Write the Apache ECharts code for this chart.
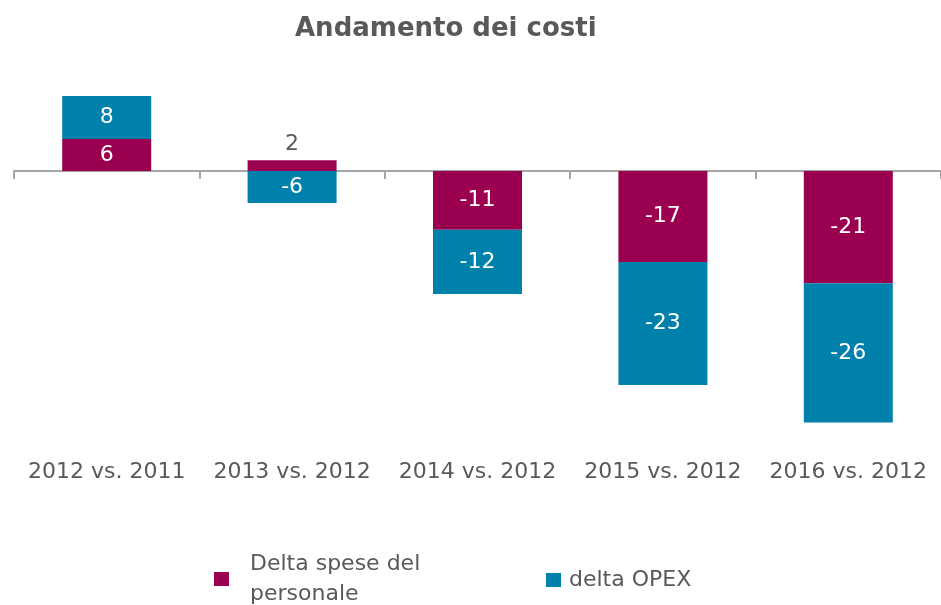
<!DOCTYPE html>
<html>
<head>
<meta charset="utf-8">
<script src="https://cdn.jsdelivr.net/npm/echarts@6/dist/echarts.min.js"></script>
<style>html,body{margin:0;padding:0;background:#fff}#c{width:941px;height:605px}</style>
</head>
<body>
<div id="c"></div>
<script>
const categories = ['2012 vs. 2011', '2013 vs. 2012', '2014 vs. 2012', '2015 vs. 2012', '2016 vs. 2012'];
const personale = [6, 2, -11, -17, -21];
const opex = [8, -6, -12, -23, -26];
const seriesNames = ['Delta spese del personale', 'delta OPEX'];

const FONT = 'DejaVu Sans';
const GREY = '#595959';
const MAG = '#9B0050';
const TEAL = '#0081AC';

const chart = echarts.init(document.getElementById('c'), null, {renderer: 'canvas'});

function toData(arr) {
  return arr.map(v => Math.abs(v) < 4
    ? {value: v, label: {position: v >= 0 ? 'top' : 'bottom', color: GREY}}
    : v);
}

const labelStyle = {show: true, position: 'inside', color: '#fff', fontFamily: FONT, fontSize: 22};

chart.setOption({
  animation: false,
  title: {
    text: 'Andamento dei costi',
    left: 290, top: 11,
    textStyle: {fontFamily: FONT, fontSize: 26, fontWeight: 'bold', color: GREY}
  },
  legend: [
    {
      data: [seriesNames[0]],
      left: 209, top: 544,
      itemWidth: 15, itemHeight: 14,
      icon: 'rect',
      formatter: () => 'Delta spese del\npersonale',
      textStyle: {fontFamily: FONT, fontSize: 22, color: GREY, lineHeight: 30, padding: [0, 0, 0, 16]}
    },
    {
      data: [seriesNames[1]],
      left: 541, top: 562,
      itemWidth: 15, itemHeight: 14,
      icon: 'rect',
      textStyle: {fontFamily: FONT, fontSize: 22, color: GREY, lineHeight: 26, padding: [0, 0, 0, 3]}
    }
  ],
  grid: {left: 14, top: 64, width: 932, height: 374.5, containLabel: false},
  xAxis: [
    {
      type: 'category', data: categories, position: 'bottom',
      axisLine: {onZero: true, lineStyle: {color: '#A6A6A6', width: 2}},
      axisTick: {show: true, length: 8, lineStyle: {color: '#A6A6A6', width: 2}},
      axisLabel: {show: false},
      splitLine: {show: false}
    },
    {
      type: 'category', data: categories, position: 'bottom',
      axisLine: {show: false, onZero: false},
      axisTick: {show: false},
      axisLabel: {show: true, interval: 0, margin: 23, fontFamily: FONT, fontSize: 22, color: GREY},
      splitLine: {show: false}
    }
  ],
  yAxis: {
    type: 'value', min: -50, max: 20, show: false,
    splitLine: {show: false}
  },
  series: [
    {
      name: seriesNames[0], type: 'bar', stack: 'a', xAxisIndex: 0,
      barWidth: 89, itemStyle: {color: MAG},
      label: labelStyle,
      data: toData(personale)
    },
    {
      name: seriesNames[1], type: 'bar', stack: 'a', xAxisIndex: 0,
      barWidth: 89, itemStyle: {color: TEAL},
      label: labelStyle,
      data: toData(opex)
    }
  ]
});
</script>
</body>
</html>
